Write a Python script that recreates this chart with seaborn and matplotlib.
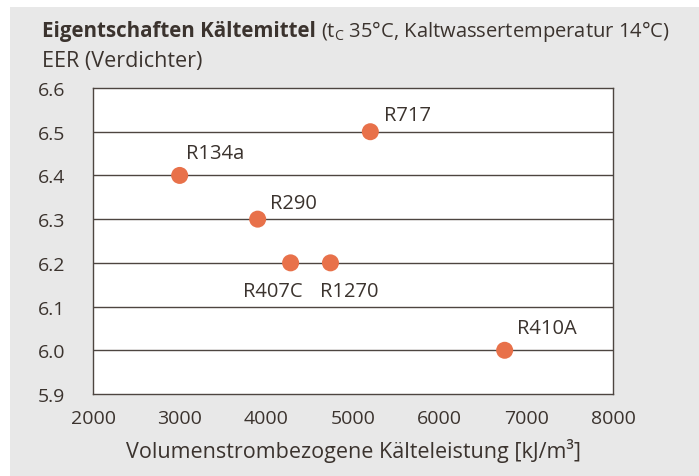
import matplotlib
matplotlib.use("Agg")
import matplotlib.pyplot as plt
import pandas as pd
import seaborn as sns
from matplotlib.patches import Rectangle

# data
refrigerants = ["R717", "R134a", "R290", "R407C", "R1270", "R410A"]
volumetric_capacity = [5200, 3000, 3900, 4280, 4740, 6750]
eer = [6.5, 6.4, 6.3, 6.2, 6.2, 6.0]
x_ticks = [2000, 3000, 4000, 5000, 6000, 7000, 8000]
y_ticks = [5.9, 6.0, 6.1, 6.2, 6.3, 6.4, 6.5, 6.6]

# label offsets in pixels (dx, dy, ha)
label_pos = {
    "R717": (14, 17, "left"),
    "R134a": (6, 22, "left"),
    "R290": (12, 16, "left"),
    "R407C": (-18, -28, "center"),
    "R1270": (19, -28, "center"),
    "R410A": (12, 22, "left"),
}

TEXT = "#3b332e"
GRID = "#4d4540"
DOT = "#e8714a"
BG = "#e8e8e8"

sns.set_theme(style="white")
plt.rcParams["font.family"] = ["Open Sans", "DejaVu Sans"]

df = pd.DataFrame({"name": refrigerants, "x": volumetric_capacity, "y": eer})

fig = plt.figure(figsize=(6.99, 4.77), dpi=100)
fig.patch.set_facecolor("white")
fig.patches.append(Rectangle((10 / 699, 0), 1, 1 - 8 / 477, transform=fig.transFigure,
                             facecolor=BG, edgecolor="none", zorder=-10))

ax = fig.add_axes([93 / 699, 1 - 395 / 477, 520 / 699, 306 / 477])
ax.set_facecolor("white")

for yv in y_ticks[1:-1]:
    ax.axhline(yv, color=GRID, lw=1.0, zorder=1)

sns.scatterplot(data=df, x="x", y="y", s=150, color=DOT, edgecolor="none",
                ax=ax, zorder=3, legend=False)

for name, xv, yv in zip(refrigerants, volumetric_capacity, eer):
    dx, dy, ha = label_pos[name]
    ax.annotate(name, (xv, yv), xytext=(dx * 0.72, dy * 0.72), textcoords="offset points",
                ha=ha, va="center", fontsize=14.5, color=TEXT)

ax.set_xlim(2000, 8000)
ax.set_ylim(5.9, 6.6)
ax.set_xticks(x_ticks)
ax.set_yticks(y_ticks)
ax.set_yticklabels([f"{v:.1f}" for v in y_ticks])
ax.tick_params(axis="x", direction="out", length=6, width=1, color=GRID,
               labelsize=14, labelcolor=TEXT, pad=5)
ax.tick_params(axis="y", length=0, labelsize=14, labelcolor=TEXT, pad=20)
for sp in ax.spines.values():
    sp.set_color(GRID)
    sp.set_linewidth(1.0)
    sp.set_visible(True)

ax.set_xlabel("Volumenstrombezogene Kälteleistung [kJ/m³]", fontsize=15.5, color=TEXT, labelpad=8)
ax.set_ylabel("")

# title: bold part followed by normal part
t1 = fig.text(42 / 699, 1 - 32 / 477, "Eigentschaften Kältemittel", fontsize=14.8,
              fontweight="bold", color=TEXT, va="center", ha="left")
fig.canvas.draw()
bb = t1.get_window_extent()
fig.text((bb.x1 + 5) / 699, 1 - 32 / 477, r"(t$_\mathregular{C}$ 35°C, Kaltwassertemperatur 14°C)",
         fontsize=14.5, color=TEXT, va="center", ha="left")
fig.text(42 / 699, 1 - 62 / 477, "EER (Verdichter)", fontsize=15.5, color=TEXT,
         va="center", ha="left")

fig.savefig("out.png", dpi=100, facecolor=fig.get_facecolor())
